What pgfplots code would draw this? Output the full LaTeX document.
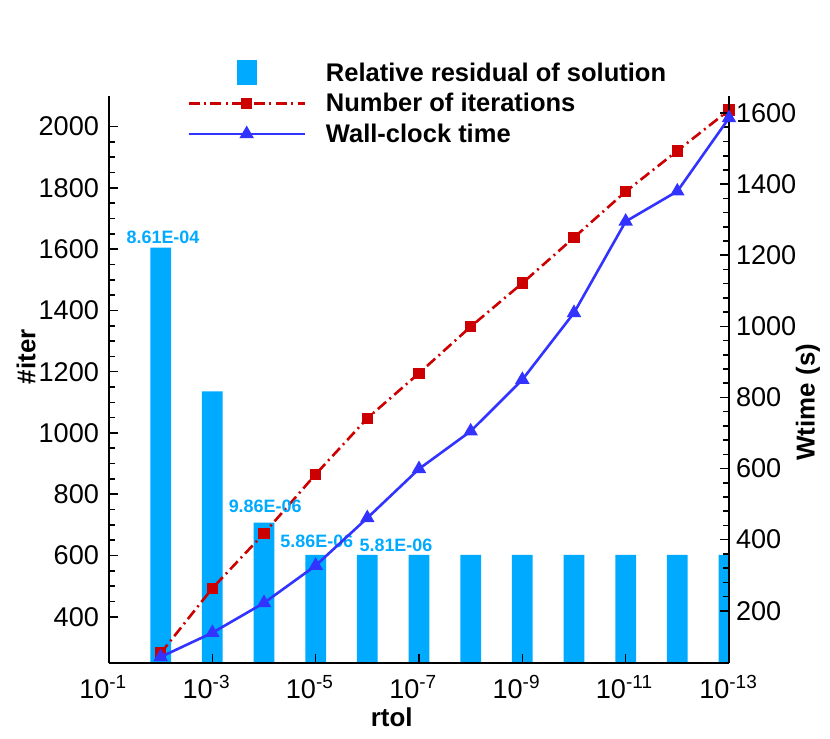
\documentclass[border=0pt]{standalone}
\usepackage{fontspec}
\setmainfont{Liberation Sans}
\usepackage{pgfplots}
\pgfplotsset{compat=1.18}
\definecolor{barblue}{RGB}{0,170,255}
\definecolor{itred}{RGB}{204,0,0}
\definecolor{wtblue}{RGB}{51,51,255}
\newcommand{\tk}{\fontsize{13.6}{16}\selectfont}
\newcommand{\lb}{\bfseries\fontsize{13}{15}\selectfont}
\begin{document}
\begin{tikzpicture}
\begin{axis}[
  at={(0,0)}, anchor=south west,
  scale only axis, width=310bp, height=283.5bp,
  xmode=log, x dir=reverse,
  xmin=1e-13, xmax=1e-1,
  ymin=249, ymax=2100,
  axis x line*=bottom, axis y line*=left,
  axis line style={line width=0.8bp, -},
  tick align=inside,
  major tick length=4.5bp, minor tick length=3bp,
  every tick/.style={black, line width=0.8bp},
  xtick={1e-1,1e-3,1e-5,1e-7,1e-9,1e-11,1e-13},
  xticklabels={\llap{10}\textsuperscript{-1},\llap{10}\textsuperscript{-3},\llap{10}\textsuperscript{-5},\llap{10}\textsuperscript{-7},\llap{10}\textsuperscript{-9},\llap{10}\textsuperscript{-11},\llap{10}\textsuperscript{-13}},
  xminorticks=false,
  xticklabel style={anchor=north west, inner xsep=0pt, font=\tk, yshift=-2.5bp},
  ytick={400,600,...,2000},
  minor y tick num=3,
  yticklabel style={font=\tk, xshift=-1.5bp},
  /pgf/number format/assume math mode=true,
  /pgf/number format/set thousands separator={},
  xlabel={rtol},
  xlabel style={font=\lb, at={(axis description cs:0.456,-0.095)}, anchor=center},
  ylabel={\#iter},
  ylabel style={font=\lb, at={(axis description cs:-0.1335,0.54)}, anchor=center},
  axis on top,
  legend style={at={(axis description cs:0.1258,1.0636)}, anchor=north west,
    draw=none, fill=none, font=\bfseries\fontsize{12.8}{15}\selectfont,
    inner sep=0pt, row sep=2.8bp, column sep=10bp,
    nodes={inner sep=0pt, text height=9.5bp, text depth=3bp}},
  legend cell align=left,
  legend image code/.code={\draw[mark repeat=2,mark phase=2,#1] plot coordinates {(0bp,1bp) (29bp,1bp) (58bp,1bp)};},
]
\addlegendimage{legend image code/.code={\fill[barblue] (24.5bp,-5bp) rectangle (34bp,7bp);}}
\addlegendentry{Relative residual of solution}
\addplot[ybar, bar width=10.4bp, fill=barblue, draw=none, forget plot] coordinates {
(1e-2,1605) (1e-3,1136) (1e-4,707) (1e-5,602) (1e-6,602) (1e-7,602)
(1e-8,602) (1e-9,602) (1e-10,602) (1e-11,602) (1e-12,602) (1e-13,602)};
\addplot[itred, line width=1.3bp, dash pattern=on 5.5bp off 2.2bp on 1bp off 2.2bp,
  mark=square*, mark size=2.2bp, mark options={solid}] coordinates {
(1e-2,281) (1e-3,493) (1e-4,672) (1e-5,865) (1e-6,1048) (1e-7,1195)
(1e-8,1347) (1e-9,1489) (1e-10,1638) (1e-11,1788) (1e-12,1921) (1e-13,2054)};
\addlegendentry{Number of iterations}
\addlegendimage{wtblue, line width=1.3bp, mark=triangle*, mark size=2.9bp}
\addlegendentry{Wall-clock time}
\node[text=barblue, font=\bfseries\fontsize{9}{10}\selectfont] at (axis cs:9e-3,1638) {8.61E-04};
\node[text=barblue, font=\bfseries\fontsize{9}{10}\selectfont] at (axis cs:9.5e-5,761) {9.86E-06};
\node[text=barblue, font=\bfseries\fontsize{9}{10}\selectfont] at (axis cs:9.5e-6,645) {5.86E-06};
\node[text=barblue, font=\bfseries\fontsize{9}{10}\selectfont] at (axis cs:2.79e-7,634) {5.81E-06};
\end{axis}
\begin{axis}[
  at={(0,0)}, anchor=south west,
  scale only axis, width=310bp, height=283.5bp,
  xmode=log, x dir=reverse,
  xmin=1e-13, xmax=1e-1,
  hide x axis,
  axis y line*=right,
  axis line style={line width=0.8bp, -},
  ymin=53, ymax=1648,
  ytick={200,400,...,1600},
  minor y tick num=4,
  tick align=inside,
  major tick length=4.5bp, minor tick length=3bp,
  every tick/.style={black, line width=0.8bp},
  yticklabel style={font=\tk},
  /pgf/number format/assume math mode=true,
  /pgf/number format/set thousands separator={},
  ylabel={Wtime (s)},
  ylabel style={font=\lb, at={(axis description cs:1.1274,0.46)}, anchor=center},
]
\addplot[wtblue, line width=1.3bp, mark=triangle*, mark size=2.9bp] coordinates {
(1e-2,70) (1e-3,138) (1e-4,222) (1e-5,327) (1e-6,461) (1e-7,599)
(1e-8,705) (1e-9,850) (1e-10,1038) (1e-11,1295) (1e-12,1380) (1e-13,1586)};
\end{axis}
\pgfresetboundingbox
\path[use as bounding box] (-54.5bp,-38bp) rectangle (360.5bp,331.5bp);
\end{tikzpicture}
\end{document}
